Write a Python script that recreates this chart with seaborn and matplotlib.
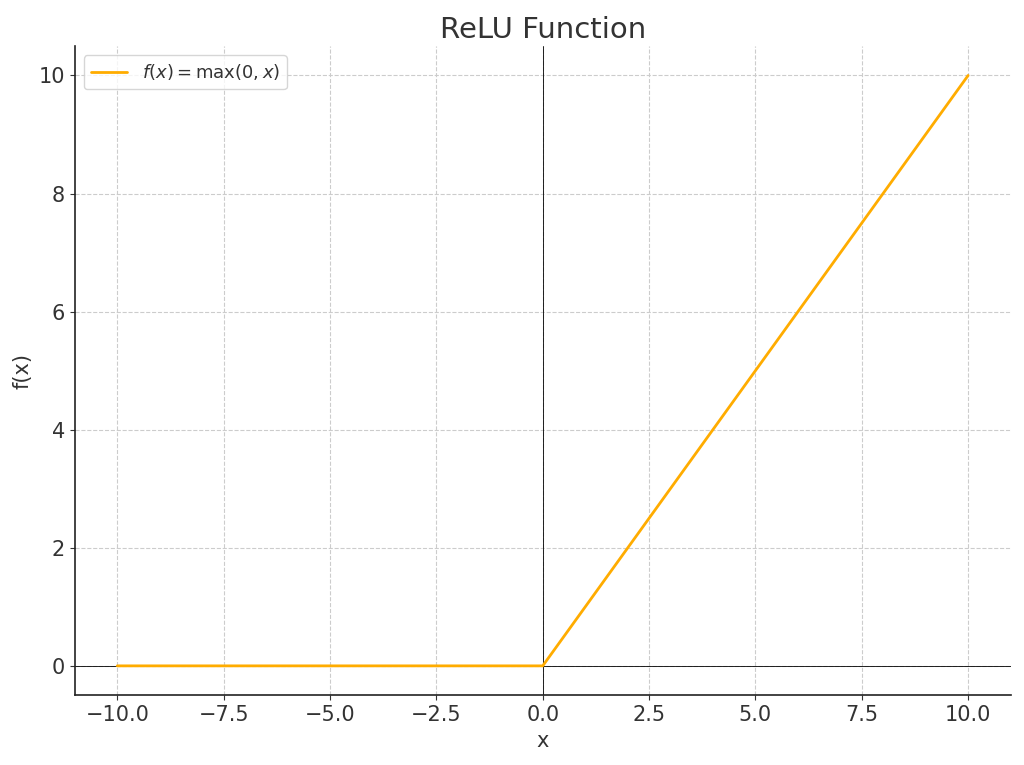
import matplotlib
matplotlib.use("Agg")
import matplotlib.pyplot as plt
import seaborn as sns
import pandas as pd

# ReLU points
x_vals = [-10.0, 0.0, 10.0]
y_vals = [0.0, 0.0, 10.0]
x_ticks = [-10.0, -7.5, -5.0, -2.5, 0.0, 2.5, 5.0, 7.5, 10.0]
y_ticks = [0, 2, 4, 6, 8, 10]

df = pd.DataFrame({"x": x_vals, "y": y_vals})

sns.set_style("ticks")
plt.rcParams["font.family"] = ["DejaVu Sans"]
text_color = "#333333"
plt.rcParams["text.color"] = text_color
plt.rcParams["axes.labelcolor"] = text_color
plt.rcParams["xtick.color"] = text_color
plt.rcParams["ytick.color"] = text_color

fig, ax = plt.subplots(figsize=(10.24, 7.65), dpi=100)
fig.subplots_adjust(left=0.073, right=0.987, top=0.94, bottom=0.091)

sns.lineplot(data=df, x="x", y="y", color="#FFAC00", linewidth=2,
             label=r"$f(x) = \max(0, x)$", ax=ax)

ax.axhline(0, color="black", linewidth=0.6, zorder=1)
ax.axvline(0, color="black", linewidth=0.6, zorder=1)

ax.set_xticks(x_ticks)
ax.set_yticks(y_ticks)
ax.set_xlim(-11, 11)
ax.set_ylim(-0.5, 10.5)
ax.tick_params(labelsize=15)
ax.grid(True, linestyle="--", color="#cccccc", linewidth=0.8)
ax.set_axisbelow(True)

ax.set_title("ReLU Function", fontsize=21)
ax.set_xlabel("x", fontsize=15)
ax.set_ylabel("f(x)", fontsize=15)

sns.despine(ax=ax)
for side in ["left", "bottom"]:
    ax.spines[side].set_color("#222222")
    ax.spines[side].set_linewidth(1.2)

ax.legend(loc="upper left", fontsize=13)

fig.savefig("out.png", dpi=100)
